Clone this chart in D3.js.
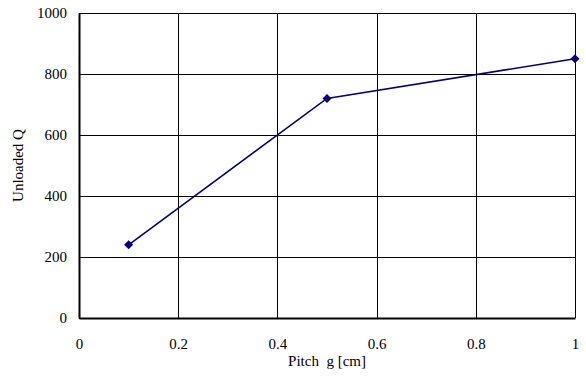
<!DOCTYPE html>
<html>
<head>
<meta charset="utf-8">
<script src="https://cdn.jsdelivr.net/npm/d3@7"></script>
<style>
  html, body { margin: 0; padding: 0; background: #fff; }
  svg { display: block; }
  svg text { font-family: "Liberation Serif", "Times New Roman", serif; fill: #000; }
</style>
</head>
<body>
<svg id="chart" width="586" height="385"></svg>
<script>
// Pitch g [cm] versus unloaded Q
const pitch = [0.1, 0.5, 1.0];
const unloadedQ = [240, 720, 850];
const xTicks = [0, 0.2, 0.4, 0.6, 0.8, 1];
const yTicks = [0, 200, 400, 600, 800, 1000];

const svg = d3.select("#chart");
const margin = { left: 79, top: 13, right: 11, bottom: 67 };
const W = 586, H = 385;

const x = d3.scaleLinear().domain([0, 1]).range([margin.left, W - margin.right]);
const y = d3.scaleLinear().domain([0, 1000]).range([H - margin.bottom, margin.top]);

// grid lines
const grid = svg.append("g").attr("stroke", "#000").attr("stroke-width", 1).attr("shape-rendering", "crispEdges");
grid.selectAll("line.h").data(yTicks).join("line")
  .attr("class", "h")
  .attr("x1", x(0)).attr("x2", x(1))
  .attr("y1", d => Math.round(y(d)) + 0.5).attr("y2", d => Math.round(y(d)) + 0.5);
grid.selectAll("line.v").data(xTicks).join("line")
  .attr("class", "v")
  .attr("y1", y(0)).attr("y2", y(1000))
  .attr("x1", d => Math.round(x(d)) + 0.5).attr("x2", d => Math.round(x(d)) + 0.5);

// axes
const yAxis = svg.append("g")
  .attr("transform", `translate(${x(0)},0)`)
  .call(d3.axisLeft(y).tickValues(yTicks).tickSize(0).tickPadding(12).tickFormat(d3.format("d")));
const xAxis = svg.append("g")
  .attr("transform", `translate(0,${y(0)})`)
  .call(d3.axisBottom(x).tickValues(xTicks).tickSize(0).tickPadding(20).tickFormat(d => String(d)));

[yAxis, xAxis].forEach(a => {
  a.attr("font-family", null).attr("font-size", null);
  a.select(".domain").attr("stroke", "#000").attr("stroke-width", 2);
  a.selectAll("text").style("font-size", "15px");
});

// data line
const pts = pitch.map((p, i) => [p, unloadedQ[i]]);
svg.append("path")
  .datum(pts)
  .attr("fill", "none")
  .attr("stroke", "#000080")
  .attr("stroke-width", 1.6)
  .attr("d", d3.line().x(d => x(d[0])).y(d => y(d[1])));

// diamond markers
svg.selectAll("path.marker").data(pts).join("path")
  .attr("class", "marker")
  .attr("fill", "#000080")
  .attr("transform", d => `translate(${x(d[0])},${y(d[1])})`)
  .attr("d", "M0,-4.5L4.5,0L0,4.5L-4.5,0Z");

// axis titles
svg.append("text")
  .attr("x", (x(0) + x(1)) / 2).attr("y", 366)
  .attr("text-anchor", "middle")
  .style("font-size", "15px")
  .style("white-space", "pre")
  .text("Pitch  g [cm]");

svg.append("text")
  .attr("transform", `translate(23,${(y(0) + y(1000)) / 2}) rotate(-90)`)
  .attr("text-anchor", "middle")
  .style("font-size", "15px")
  .text("Unloaded Q");
</script>
</body>
</html>
